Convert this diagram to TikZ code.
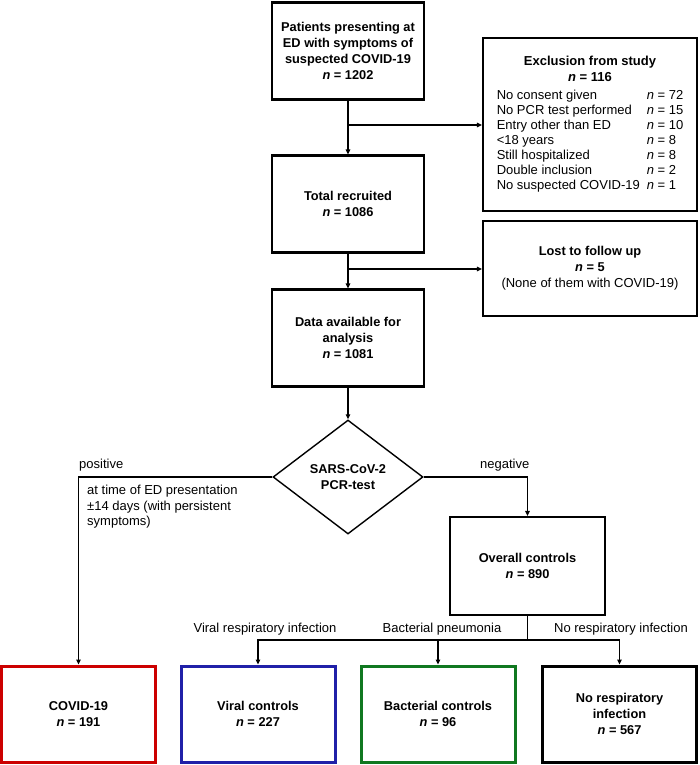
\documentclass[tikz,border=0pt]{standalone}
\usepackage{fontspec}
\setmainfont{Liberation Sans}
\usetikzlibrary{shapes.geometric,arrows.meta}
\definecolor{cred}{RGB}{204,0,0}
\definecolor{cblue}{RGB}{32,32,168}
\definecolor{cgreen}{RGB}{16,120,32}
\begin{document}
\begin{tikzpicture}[x=1pt,y=-1pt,
  box/.style={draw,line width=2.2pt,minimum width=152pt,minimum height=97pt,align=center,
    font=\fontsize{12.8}{16}\selectfont\bfseries,inner sep=0pt},
  bbox/.style={box,line width=3pt,minimum width=154pt,minimum height=96pt},
  lab/.style={inner sep=0pt,font=\fontsize{13}{15.5}\selectfont},
  conn/.style={line width=1.2pt,-{Triangle[length=5pt,width=4.5pt]}},
  plain/.style={line width=1.2pt}]
\useasboundingbox (0,0) rectangle (700,765);

% main column
\node[box] (pat) at (348,51) {Patients presenting at\\ED with symptoms of\\suspected COVID-19\\\textit{n} = 1202};
\node[box] (tot) at (348,204) {Total recruited\\\textit{n} = 1086};
\node[box] (data) at (348,338) {Data available for\\analysis\\\textit{n} = 1081};
\node[diamond,draw,line width=1.4pt,minimum width=150pt,minimum height=114pt,aspect=1.32,
  inner sep=0pt,align=center,font=\fontsize{12.8}{16}\selectfont\bfseries] (dia) at (348,477) {SARS-CoV-2\\PCR-test};

% side boxes
\node[box,minimum width=214pt,minimum height=173pt,font=\fontsize{13}{15}\selectfont] (excl) at (590,124.5) {%
\begin{tabular}{@{}l@{}}
\multicolumn{1}{@{}c@{}}{\bfseries Exclusion from study}\\[1pt]
\multicolumn{1}{@{}c@{}}{\bfseries\textit{n} = 116}\\[2.5pt]
\makebox[150pt][l]{No consent given}\textit{n} = 72\\
\makebox[150pt][l]{No PCR test performed}\textit{n} = 15\\
\makebox[150pt][l]{Entry other than ED}\textit{n} = 10\\
\makebox[150pt][l]{<18 years}\textit{n} = 8\\
\makebox[150pt][l]{Still hospitalized}\textit{n} = 8\\
\makebox[150pt][l]{Double inclusion}\textit{n} = 2\\
\makebox[150pt][l]{No suspected COVID-19}\textit{n} = 1
\end{tabular}};
\node[box,minimum width=214pt,minimum height=95pt] (lost) at (590,268.5) {Lost to follow up\\\textit{n} = 5\\{\mdseries\fontsize{13}{16}\selectfont (None of them with COVID-19)}};

% controls
\node[box,minimum width=155pt,minimum height=98pt] (overall) at (527.5,566) {Overall controls\\\textit{n} = 890};

% outcome boxes
\node[bbox,draw=cred] (covid) at (78.5,714) {COVID-19\\\textit{n} = 191};
\node[bbox,draw=cblue] (viral) at (258,714) {Viral controls\\\textit{n} = 227};
\node[bbox,draw=cgreen] (bact) at (438,714) {Bacterial controls\\\textit{n} = 96};
\node[bbox,draw=black] (nores) at (619.5,714) {No respiratory\\infection\\\textit{n} = 567};

% branch points
\coordinate (b1) at (348,125);
\coordinate (b2) at (348,269);
\coordinate (split) at (527.5,640);

% connectors
\draw[conn] (pat.south) -- (tot.north);
\draw[conn] (b1) -- (excl.west |- b1);
\draw[conn] (tot.south) -- (data.north);
\draw[conn] (b2) -- (lost.west |- b2);
\draw[conn] (data.south) -- (dia.north);
\draw[conn] (dia.west) -| (covid.north);
\draw[conn] (dia.east) -| (overall.north);
\draw[plain] (overall.south) -- (split);
\draw[conn] (split) -| (viral.north);
\draw[conn] (split) -| (bact.north);
\draw[conn] (split) -| (nores.north);

% labels
\node[lab,anchor=west] (lpos) at (79,465) {positive};
\node[lab,anchor=west] (lneg) at (480,465) {negative};
\node[lab,anchor=north west,align=left] (lnote) at (87,485) {at time of ED presentation\\±14 days (with persistent\\symptoms)};
\node[lab] (lvir) at (265,629) {Viral respiratory infection};
\node[lab] (lbac) at (442,629) {Bacterial pneumonia};
\node[lab] (lno) at (621,629) {No respiratory infection};
\end{tikzpicture}
\end{document}
